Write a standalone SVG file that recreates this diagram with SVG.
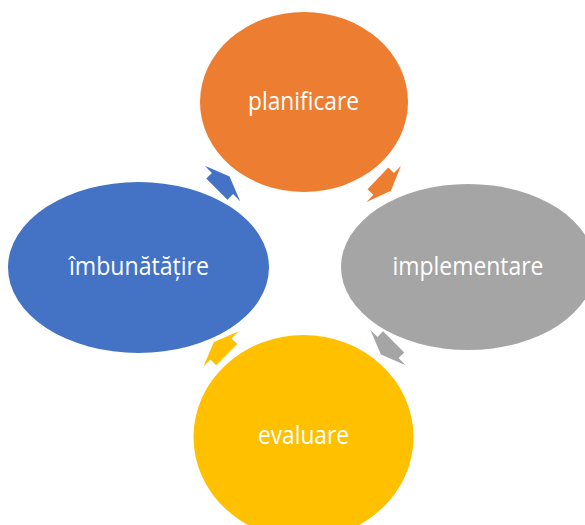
<svg xmlns="http://www.w3.org/2000/svg" width="585" height="525" viewBox="0 0 585 525">
  <style>
    .lbl { font-family: "Open Sans", "Noto Sans", "Liberation Sans", sans-serif; font-size: 25px; font-weight: 400; fill: #ffffff; text-anchor: middle; }
    .orange { fill: #ED7D31; }
    .gray { fill: #A5A5A5; }
    .blue { fill: #4472C4; }
    .yellow { fill: #FFC000; }
  </style>
  <defs>
    <!-- wide block arrow, head base centred on the origin, pointing along +x -->
    <path id="cycleArrow" d="M -8,-15 L 0,-15 L 0,-25 L 10,0 L 0,25 L 0,15 L -8,15 Z"/>
  </defs>
  <rect width="585" height="525" fill="#ffffff"/>

  <g id="connectors">
    <use href="#cycleArrow" class="orange" transform="translate(383.7,183.8) rotate(43.6)"/>
    <use href="#cycleArrow" class="gray" transform="translate(388,347.5) rotate(135)"/>
    <use href="#cycleArrow" class="yellow" transform="translate(221,349) rotate(-135)"/>
    <use href="#cycleArrow" class="blue" transform="translate(222.5,183.5) rotate(-45)"/>
  </g>

  <g id="planificare">
    <ellipse class="orange" cx="304" cy="102" rx="104" ry="90"/>
    <text class="lbl" x="303.5" y="110" textLength="111" lengthAdjust="spacingAndGlyphs">planificare</text>
  </g>

  <g id="implementare">
    <ellipse class="gray" cx="468" cy="267" rx="127" ry="83"/>
    <text class="lbl" x="468" y="275" textLength="151" lengthAdjust="spacingAndGlyphs">implementare</text>
  </g>

  <g id="evaluare">
    <ellipse class="yellow" cx="303.5" cy="437" rx="110" ry="102"/>
    <text class="lbl" x="303.5" y="444" textLength="91" lengthAdjust="spacingAndGlyphs">evaluare</text>
  </g>

  <g id="imbunatatire">
    <ellipse class="blue" cx="138.5" cy="267.5" rx="130.5" ry="85.5"/>
    <text class="lbl" x="139" y="275" textLength="140" lengthAdjust="spacingAndGlyphs">îmbunătățire</text>
  </g>
</svg>
